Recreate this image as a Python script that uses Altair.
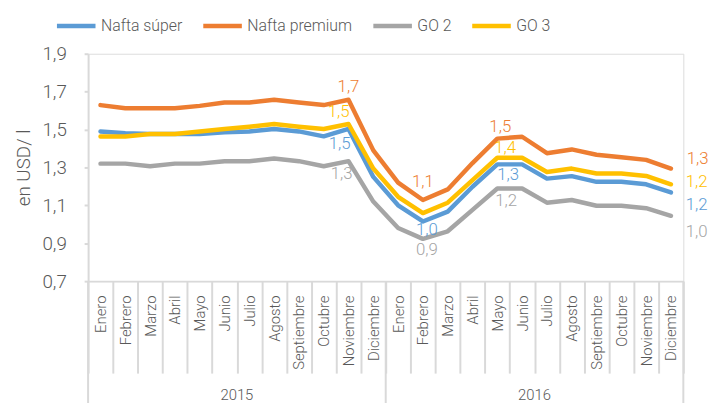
import altair as alt
import pandas as pd

# ---------------- data ----------------
meses = ["Enero", "Febrero", "Marzo", "Abril", "Mayo", "Junio", "Julio",
         "Agosto", "Septiembre", "Octubre", "Noviembre", "Diciembre"]
anios = ["2015", "2016"]
series = ["Nafta súper", "Nafta premium", "GO 2", "GO 3"]
colores = ["#5B9BD5", "#ED7D31", "#A5A5A5", "#FFC000"]

nafta_super = [1.490, 1.480, 1.476, 1.476, 1.476, 1.485, 1.490, 1.503, 1.490, 1.464, 1.503, 1.250,
               1.100, 1.015, 1.067, 1.198, 1.316, 1.316, 1.241, 1.254, 1.224, 1.224, 1.211, 1.168]
nafta_premium = [1.629, 1.612, 1.612, 1.612, 1.625, 1.643, 1.643, 1.657, 1.643, 1.629, 1.657, 1.390,
                 1.220, 1.128, 1.184, 1.323, 1.452, 1.462, 1.375, 1.395, 1.367, 1.354, 1.340, 1.294]
go2 = [1.320, 1.320, 1.306, 1.320, 1.320, 1.333, 1.333, 1.347, 1.333, 1.306, 1.333, 1.120,
       0.980, 0.923, 0.963, 1.076, 1.189, 1.189, 1.114, 1.128, 1.098, 1.098, 1.085, 1.045]
go3 = [1.463, 1.463, 1.476, 1.476, 1.490, 1.503, 1.515, 1.529, 1.515, 1.503, 1.529, 1.294,
       1.145, 1.059, 1.114, 1.233, 1.351, 1.351, 1.276, 1.294, 1.268, 1.268, 1.255, 1.211]

y_ticks = [0.7, 0.9, 1.1, 1.3, 1.5, 1.7, 1.9]

# labelled points: (series, month index, placement)
etiquetas = [
    ("Nafta premium", 10, "arriba"), ("GO 3", 10, "arriba_izq"),
    ("Nafta súper", 10, "abajo_izq"), ("GO 2", 10, "abajo_izq2"),
    ("Nafta premium", 13, "arriba_lejos"), ("Nafta súper", 13, "abajo_cerca"),
    ("GO 2", 13, "abajo_der"),
    ("Nafta premium", 16, "arriba_der"), ("GO 3", 16, "arriba_der2"),
    ("Nafta súper", 16, "abajo_der2"), ("GO 2", 16, "abajo_der3"),
    ("Nafta premium", 23, "der_sube"), ("GO 3", 23, "der"),
    ("Nafta súper", 23, "der_baja"), ("GO 2", 23, "der_baja2"),
]

# ---------------- styling ----------------
PLACE = {
    "arriba": (0, -13), "arriba_izq": (-10, -12), "abajo_izq": (-9, 15), "abajo_izq2": (-7, 13),
    "arriba_lejos": (0, -18), "abajo_cerca": (4, 9), "abajo_der": (4, 11),
    "arriba_der": (3, -12), "arriba_der2": (8, -10), "abajo_der2": (11, 11), "abajo_der3": (9, 13),
    "der_sube": (27, -10), "der": (26, -2), "der_baja": (26, 13), "der_baja2": (26, 16),
}
W, H = 602, 230
TXT = "#595959"
AX = "#D9D9D9"
FONT = "Roboto"

valores = dict(zip(series, [nafta_super, nafta_premium, go2, go3]))
color_de = dict(zip(series, colores))

rows = []
for k, s in enumerate(series):
    for i, v in enumerate(valores[s]):
        rows.append({"serie": s, "orden": k, "pos": i + 0.5, "valor": v})
df = pd.DataFrame(rows)

lab_rows = []
for s, i, p in etiquetas:
    v = valores[s][i]
    lab_rows.append({"serie": s, "pos": i + 0.5, "valor": v, "lugar": p,
                     "color": color_de[s],
                     "txt": f"{v:.1f}".replace(".", ",")})
df_lab = pd.DataFrame(lab_rows)

n = len(meses) * len(anios)
df_lim = pd.DataFrame({"lim": [j * len(meses) for j in range(len(anios) + 1)]})
df_anio = pd.DataFrame({"centro": [j * len(meses) + len(meses) / 2 for j in range(len(anios))],
                        "anio": anios})

meses_js = "[" + ",".join(f"'{m}'" for m in meses) + "]"
x_scale = alt.Scale(domain=[0, n], nice=False, zero=False)

x_axis = alt.Axis(
    values=list(range(n + 1)), tickCount=n + 1,
    labelExpr=f"datum.value < {n} ? {meses_js}[datum.value % {len(meses)}] : ''",
    title=None, labelAngle=270, labelOffset=W / n / 2, labelPadding=-79,
    tickSize=93, tickColor=AX, tickWidth=2, domainColor=AX, domainWidth=2,
    labelColor=TXT, labelFontSize=15, labelFont=FONT, labelFontWeight=300,
    labelOverlap=False, labelFlush=False, labelBound=False, grid=False,
)
y_axis = alt.Axis(
    values=y_ticks, tickCount=len(y_ticks),
    labelExpr="replace(format(datum.value, '.1f'), '.', ',')",
    title="en USD/ l", titleFontSize=19, titleFont=FONT, titleFontWeight=300,
    titleColor=TXT, titlePadding=9,
    tickSize=4, tickColor=AX, tickWidth=2, domainColor=AX, domainWidth=2,
    labelColor=TXT, labelFontSize=19, labelFont=FONT, labelFontWeight=300,
    labelPadding=18, labelOverlap=False, grid=False,
)

lines = alt.Chart(df).mark_line(strokeWidth=4.5, strokeCap="round", strokeJoin="round").encode(
    x=alt.X("pos:Q", scale=x_scale, axis=x_axis),
    y=alt.Y("valor:Q", scale=alt.Scale(domain=[0.7, 1.9], nice=False, zero=False), axis=y_axis),
    color=alt.Color("serie:N", scale=alt.Scale(domain=series, range=colores),
                    legend=alt.Legend(orient="none", legendX=-34, legendY=-50, direction="horizontal",
                                      title=None, symbolType="stroke", symbolSize=1521,
                                      symbolStrokeWidth=4.5, labelFontSize=16, labelFont=FONT,
                                      labelFontWeight=300, labelColor=TXT, labelOffset=3,
                                      columnPadding=11, padding=0)),
    order="orden:Q",
)

rules = alt.Chart(df_lim).mark_rule(color=AX, strokeWidth=2).encode(
    x="lim:Q", y=alt.value(H), y2=alt.value(H + 125),
)

years = alt.Chart(df_anio).mark_text(fontSize=15, font=FONT, fontWeight=300, color=TXT,
                                     baseline="alphabetic").encode(
    x="centro:Q", y=alt.value(H + 120), text="anio:N",
)

label_layers = []
for p, (dx, dy) in PLACE.items():
    sub = df_lab[df_lab["lugar"] == p]
    if len(sub) == 0:
        continue
    label_layers.append(
        alt.Chart(sub).mark_text(fontSize=17, font=FONT, fontWeight=300, dx=dx, dy=dy,
                                 align="center", baseline="middle").encode(
            x="pos:Q", y="valor:Q", text="txt:N", fill=alt.Fill("color:N", scale=None),
        )
    )

chart = alt.layer(lines, rules, years, *label_layers).properties(
    width=W, height=H,
    autosize=alt.AutoSizeParams(type="none"),
    padding={"left": 81, "top": 44, "right": 29, "bottom": 121},
).configure_view(stroke=None).configure(font=FONT).configure_legend(labelFontWeight=300)

chart.save("out.html", embed_options={"renderer": "svg", "actions": False})
